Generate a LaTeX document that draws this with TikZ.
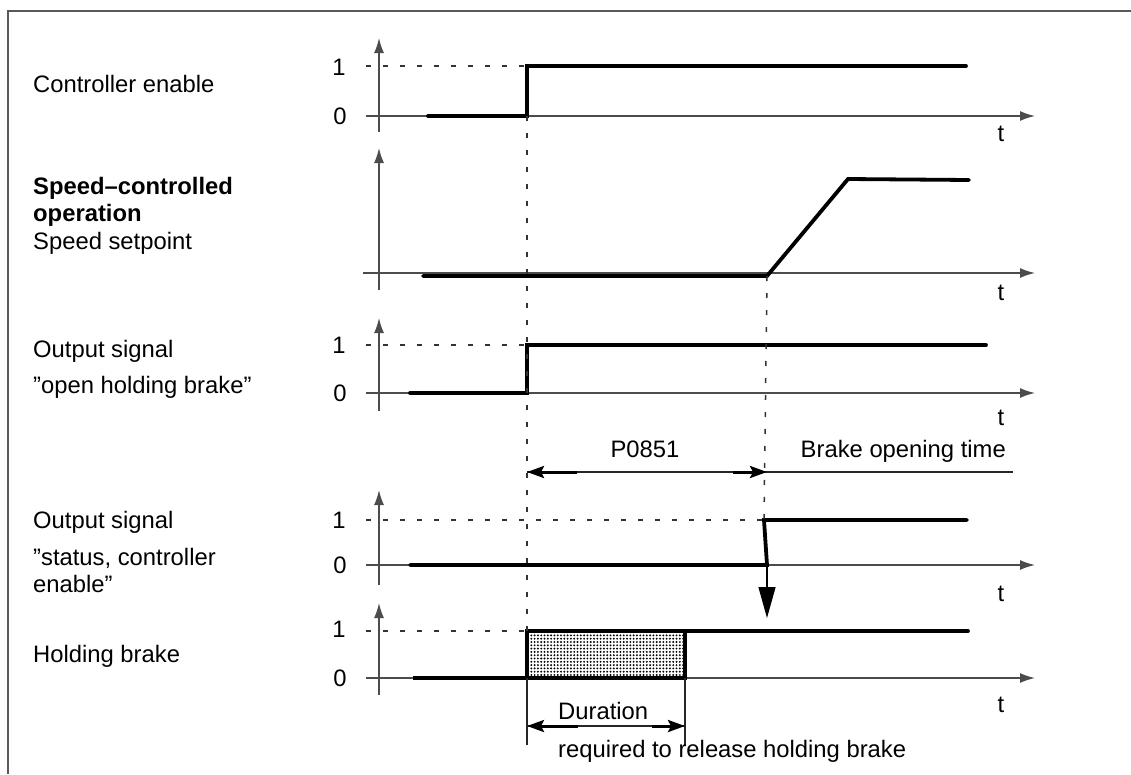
\documentclass[tikz,border=0pt]{standalone}
\usepackage{fontspec}
\setmainfont{Liberation Sans}
\usetikzlibrary{arrows.meta,patterns}
\pgfdeclarepatternformonly{densedots}{\pgfqpoint{-1.2pt}{-1.2pt}}{\pgfqpoint{1.2pt}{1.2pt}}{\pgfqpoint{3.3pt}{3.3pt}}{%
  \pgfpathcircle{\pgfqpoint{0pt}{0pt}}{1.05pt}\pgfusepath{fill}}
\begin{document}
\begin{tikzpicture}[x=1pt,y=-1pt,
  every node/.style={font=\fontsize{23.8}{28}\selectfont, inner sep=0pt, text=black},
  frameline/.style={draw=black!65, line width=1.8pt},
  axis/.style={draw=black!70, line width=1.5pt, -{Latex[length=15pt,width=10pt]}},
  sig/.style={draw=black, line width=3.8pt, line cap=round},
  guide/.style={draw=black!80, line width=1.5pt, dash pattern=on 5pt off 12pt},
  thinline/.style={draw=black!85, line width=1.2pt},
  dimhead/.style={draw=black, line width=3pt, -{Stealth[length=17pt,width=12pt,inset=3pt]}},
  bigarrow/.style={draw=black, line width=1.3pt, -{Triangle[length=31pt,width=17pt]}},
  lab/.style={anchor=base west},
  num/.style={anchor=base}
]
\useasboundingbox (0,0) rectangle (1131,774);
% frame
\draw[frameline] (8,774) -- (8,11) -- (1131,11);

% left labels
\node[lab] (l1) at (33,92) {Controller enable};
\node[lab] (l2a) at (33,194) {\bfseries Speed–controlled};
\node[lab] (l2b) at (33,221) {\bfseries operation};
\node[lab] (l2c) at (33,249) {Speed setpoint};
\node[lab] (l3a) at (33,357) {Output signal};
\node[lab] (l3b) at (33,393) {”open holding brake”};
\node[lab] (l4a) at (33,528) {Output signal};
\node[lab] (l4b) at (33,565) {”status, controller};
\node[lab] (l4c) at (33,592) {enable”};
\node[lab] (l5) at (33,662) {Holding brake};

% ---------- panel 1
\coordinate (a1b) at (379,132); \coordinate (a1t) at (379,38);
\coordinate (h1s) at (366,116); \coordinate (h1e) at (1035,116);
\draw[axis] (a1b) -- (a1t);
\draw[axis] (h1s) -- (h1e);
\node[num] (one1) at (339,75) {1};
\node[num] (zero1) at (340,124) {0};
\node (t1) at (1001,134) {t};
\coordinate (p1a) at (428,116); \coordinate (p1b) at (527,116);
\coordinate (p1c) at (527,66); \coordinate (p1d) at (966,66);
\draw[guide] (366,66) -- (p1c);
\draw[sig] (p1a) -- (p1b) -- (p1c) -- (p1d);

% ---------- panel 2
\coordinate (a2b) at (379,290); \coordinate (a2t) at (379,148);
\coordinate (h2s) at (363,273); \coordinate (h2e) at (1035,273);
\draw[axis] (a2b) -- (a2t);
\draw[axis] (h2s) -- (h2e);
\node (t2) at (1001,293) {t};
\coordinate (p2a) at (423,276); \coordinate (p2b) at (767,276);
\coordinate (p2c) at (848,179); \coordinate (p2d) at (969,180);
\draw[sig] (p2a) -- (p2b) -- (p2c) -- (p2d);

% ---------- panel 3
\coordinate (a3b) at (379,411); \coordinate (a3t) at (379,318);
\coordinate (h3s) at (366,393); \coordinate (h3e) at (1035,393);
\draw[axis] (a3b) -- (a3t);
\draw[axis] (h3s) -- (h3e);
\node[num] (one3) at (339,353) {1};
\node[num] (zero3) at (340,401) {0};
\node (t3) at (1001,418) {t};
\coordinate (p3a) at (410,393); \coordinate (p3b) at (527,393);
\coordinate (p3c) at (527,345); \coordinate (p3d) at (986,345);
\draw[guide] (366,345) -- (p3c);
\draw[sig] (p3a) -- (p3b) -- (p3c) -- (p3d);

% ---------- P0851 dimension
\coordinate (d1l) at (527,472); \coordinate (d1r) at (767,472);
\coordinate (d1e) at (1013,472);
\draw[thinline] (d1l) -- (d1e);
\draw[dimhead] (577,472) -- (d1l);
\draw[dimhead] (733,472) -- (d1r);
\node[num] (p0851) at (645,457) {P0851};
\node[anchor=base east] (bot) at (1006,457) {Brake opening time};

% ---------- panel 4
\coordinate (a4b) at (379,585); \coordinate (a4t) at (379,490);
\coordinate (h4s) at (366,565); \coordinate (h4e) at (1035,565);
\draw[axis] (a4b) -- (a4t);
\draw[axis] (h4s) -- (h4e);
\node[num] (one4) at (339,528) {1};
\node[num] (zero4) at (340,573) {0};
\node (t4) at (1001,594) {t};
\coordinate (p4a) at (410,565); \coordinate (p4b) at (767,565);
\coordinate (p4c) at (764,520); \coordinate (p4d) at (967,520);
\draw[guide] (366,520) -- (p4c);
\draw[sig] (p4a) -- (p4b) -- (p4c) -- (p4d);
\coordinate (bigtip) at (767,618);
\draw[bigarrow] (p4b) -- (bigtip);

% ---------- panel 5
\coordinate (a5b) at (379,695); \coordinate (a5t) at (379,603);
\coordinate (h5s) at (366,678); \coordinate (h5e) at (1035,678);
\draw[axis] (a5b) -- (a5t);
\draw[axis] (h5s) -- (h5e);
\node[num] (one5) at (339,637) {1};
\node[num] (zero5) at (340,686) {0};
\node (t5) at (1001,705) {t};
\coordinate (p5a) at (413,678); \coordinate (p5b) at (527,678);
\coordinate (p5c) at (527,631); \coordinate (p5d) at (685,631);
\coordinate (p5e) at (685,678); \coordinate (p5f) at (968,631);
\draw[guide] (366,631) -- (p5c);
\fill[pattern=densedots, pattern color=black] (p5b) rectangle (p5d);
\draw[sig] (p5a) -- (p5b) -- (p5c) -- (p5d) -- (p5e) -- cycle;
\draw[sig] (p5d) -- (p5f);

% ---------- vertical guides
\draw[guide] (p1b) -- (p5c);
\draw[guide] (p2b) -- (p4c);

% ---------- duration dimension
\coordinate (x5l) at (527,745); \coordinate (x5r) at (685,745);
\draw[thinline] (p5b) -- (x5l);
\draw[thinline] (p5e) -- (x5r);
\coordinate (d2l) at (527,726); \coordinate (d2r) at (685,726);
\draw[thinline] (d2l) -- (d2r);
\draw[dimhead] (578,726) -- (d2l);
\draw[dimhead] (652,726) -- (d2r);
\node[lab] (dur) at (558,719) {Duration};
\node[lab] (req) at (558,757) {required to release holding brake};
\end{tikzpicture}
\end{document}
